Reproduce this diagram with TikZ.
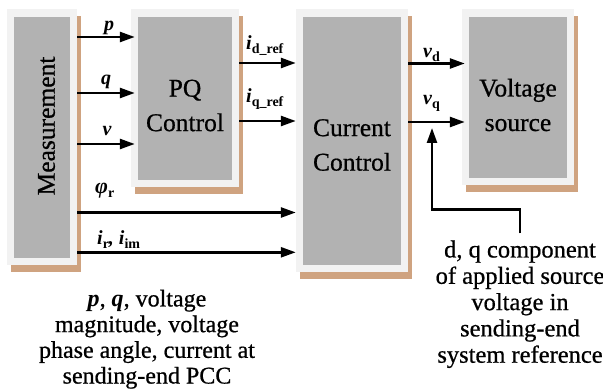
\documentclass[tikz,border=0pt]{standalone}
\usepackage{fontspec}
\setmainfont{Liberation Serif}
\newfontfamily\heavyrm{Liberation Serif}[FakeBold=0.7]
\usetikzlibrary{arrows.meta,shadows}
\definecolor{framec}{RGB}{242,242,242}
\definecolor{boxgray}{RGB}{178,178,178}
\definecolor{shadowc}{RGB}{207,163,128}
\newcommand\lblfont{\fontsize{20}{24}\selectfont\bfseries\itshape}
\newcommand\sbx[1]{\raisebox{-3.5pt}{\fontsize{14}{14}\selectfont\bfseries\upshape #1}}
\begin{document}
\begin{tikzpicture}[x=1pt,y=-1pt,
  block/.style={fill=framec, draw=none, inner sep=0pt,
    general shadow={shadow xshift=3.5pt, shadow yshift=-7pt, fill=shadowc},
    path picture={\fill[boxgray] ([shift={(7,8)}]path picture bounding box.north west)
       rectangle ([shift={(-7.5,-7)}]path picture bounding box.south east);}},
  blocktext/.style={inner sep=0pt, align=center, font=\heavyrm\fontsize{25.5}{34.5}\selectfont},
  lab/.style={inner sep=0pt, font=\lblfont},
  note/.style={inner sep=0pt, align=center, font=\heavyrm\fontsize{24}{25.7}\selectfont},
  notetwo/.style={inner sep=0pt, align=center, font=\heavyrm\fontsize{24.5}{26.3}\selectfont},
  arr/.style={line width=2.5pt, -{Triangle[length=15pt,width=10pt]}}]
\useasboundingbox (0,0) rectangle (603,390);

% blocks
\node[block, minimum width=70pt, minimum height=256pt] (meas) at (42,137) {};
\node[block, minimum width=108pt, minimum height=178pt] (pq) at (185,98) {};
\node[block, minimum width=112pt, minimum height=263pt] (cc) at (352,140.5) {};
\node[block, minimum width=112pt, minimum height=176pt] (vs) at (518,97) {};

% block texts
\node[blocktext, rotate=90] (meast) at (46.5,126) {Measurement};
\node[blocktext, anchor=north] (pqt) at (185,79.5) {PQ\\Control};
\node[blocktext, anchor=north] (cct) at (352,119) {Current\\Control};
\node[blocktext, anchor=north] (vst) at (518,78.6) {Voltage\\source};

% arrows from measurement
\draw[arr, shorten >=-4pt] (meas.east |- 0,37) -- (pq.west |- 0,37);
\draw[arr, shorten >=-4pt] (meas.east |- 0,93) -- (pq.west |- 0,93);
\draw[arr, shorten >=-4pt] (meas.east |- 0,144) -- (pq.west |- 0,144);
\draw[arr] (meas.east |- 0,212.5) -- (cc.west |- 0,212.5);
\draw[arr] (meas.east |- 0,252.3) -- (cc.west |- 0,252.3);
% PQ to current control
\draw[arr] (pq.east |- 0,63) -- (cc.west |- 0,63);
\draw[arr] (pq.east |- 0,121) -- (cc.west |- 0,121);
% current control to voltage source
\draw[arr, shorten >=-3pt] (cc.east |- 0,63.5) -- (vs.west |- 0,63.5);
\draw[arr, shorten >=-3pt] (cc.east |- 0,122) -- (vs.west |- 0,122);

% labels
\node[lab, anchor=base] (plab) at (109,31) {p};
\node[lab, anchor=base] (qlab) at (106,85) {q};
\node[lab, anchor=base] (vlab) at (107,136) {v};
\node[lab, anchor=base west] (philab) at (95,194) {{\fontsize{22}{24}\selectfont φ}\sbx{r}};
\node[lab, anchor=base west] (ilab) at (97,245) {i\sbx{r}, i\sbx{im}};
\node[lab, anchor=base west] (idlab) at (246,50) {i\sbx{d\_ref}};
\node[lab, anchor=base west] (iqlab) at (246,103) {i\sbx{q\_ref}};
\node[lab, anchor=base west] (vdlab) at (423,58) {v\sbx{d}};
\node[lab, anchor=base west] (vqlab) at (423,105) {v\sbx{q}};

% notes
\node[note, anchor=north] (meastxt) at (147,289.6)
  {{\normalfont\bfseries\itshape p}, {\normalfont\bfseries\itshape q}, voltage\\magnitude, voltage\\phase angle, current at\\sending-end PCC};
\node[notetwo, anchor=north] (dq) at (520,240.3)
  {d, q component\\of applied source\\voltage in\\sending-end\\system reference};

\coordinate (vqtip) at (432,128);
\draw[arr, shorten <=7pt] (dq.north) -- ++(0,-31) -| (vqtip);
\end{tikzpicture}
\end{document}
